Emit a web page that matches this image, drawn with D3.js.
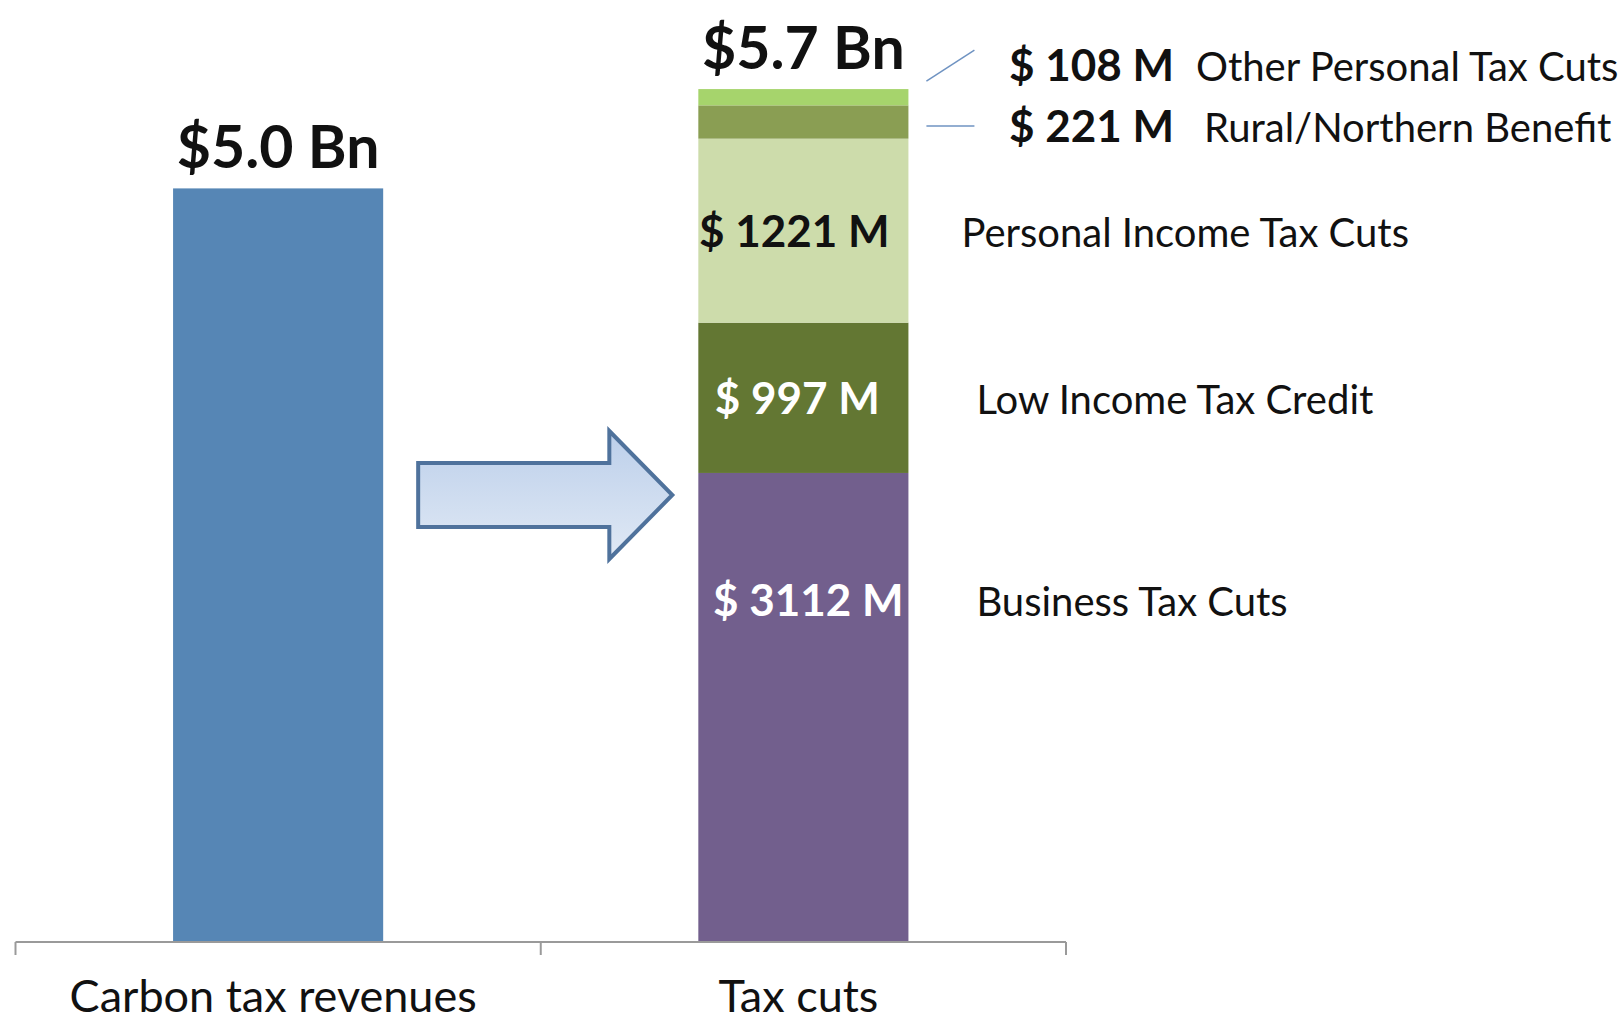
<!DOCTYPE html>
<html>
<head>
<meta charset="utf-8">
<script src="https://cdn.jsdelivr.net/npm/d3@7"></script>
<style>
  html, body { margin: 0; padding: 0; background: #fff; }
  text { font-family: Lato, "Open Sans", sans-serif; }
</style>
</head>
<body>
<div id="chart"></div>
<script>
// Data
const categories = ["Carbon tax revenues", "Tax cuts"];
const totalLabels = ["$5.0 Bn", "$5.7 Bn"];
const revenueValue = 5000; // $ M
const segmentNames = ["Business Tax Cuts", "Low Income Tax Credit", "Personal Income Tax Cuts", "Rural/Northern Benefit", "Other Personal Tax Cuts"];
const segmentValues = [3112, 997, 1221, 221, 108]; // $ M
const segmentLabels = ["$ 3112 M", "$ 997 M", "$ 1221 M", "$ 221 M", "$ 108 M"];

// colours
const revenueColor = "#5686b5";
const segmentColors = ["#725f8d", "#637733", "#cddcab", "#8a9e53", "#a6d46c"];
const segmentTextColors = ["#fff", "#fff", "#111"];

var width = 1623, height = 1025;

var svg = d3.select("#chart")
  .append("svg")
  .attr("width", width)
  .attr("height", height);

// scales
var x = d3.scaleBand()
  .domain(categories)
  .range([15.5, 1066])
  .paddingInner(0.6)
  .paddingOuter(0.3);

var y = d3.scaleLinear()
  .domain([0, 6250])
  .range([942, 0]);

// stack the tax cut segments
var stacked = [];
var acc = 0;
segmentValues.forEach(function(v, i) {
  stacked.push({ name: segmentNames[i], label: segmentLabels[i], value: v, y0: acc, y1: acc + v, i: i });
  acc += v;
});
var totals = [revenueValue, acc];

// revenue bar
svg.append("rect")
  .attr("x", x(categories[0]))
  .attr("y", y(revenueValue))
  .attr("width", x.bandwidth())
  .attr("height", y(0) - y(revenueValue))
  .attr("fill", revenueColor);

// stacked bar
svg.append("g")
  .selectAll("rect")
  .data(stacked)
  .enter()
  .append("rect")
    .attr("x", x(categories[1]))
    .attr("y", function(d) { return y(d.y1); })
    .attr("width", x.bandwidth())
    .attr("height", function(d) { return y(d.y0) - y(d.y1); })
    .attr("fill", function(d) { return segmentColors[d.i]; });

// total labels above bars
svg.selectAll(".total")
  .data(categories)
  .enter()
  .append("text")
    .attr("class", "total")
    .attr("x", function(d) { return x(d) + x.bandwidth() / 2; })
    .attr("y", function(d, i) { return y(totals[i]) - 20; })
    .attr("text-anchor", "middle")
    .style("font-size", "59px")
    .style("font-weight", "bold")
    .style("fill", "#111")
    .text(function(d, i) { return totalLabels[i]; });

// axis line with ticks at band boundaries
var axisY = y(0);
var r = x.range();
var mid = x(categories[0]) + x.bandwidth() + x.step() * x.paddingInner() / 2;
var axis = svg.append("g").attr("stroke", "#9a9a9a").attr("stroke-width", 2);
axis.append("line").attr("x1", r[0]).attr("x2", r[1]).attr("y1", axisY).attr("y2", axisY);
[r[0], mid, r[1]].forEach(function(tx) {
  axis.append("line").attr("x1", tx).attr("x2", tx).attr("y1", axisY).attr("y2", axisY + 13);
});

svg.selectAll(".cat")
  .data(categories)
  .enter()
  .append("text")
    .attr("class", "cat")
    .attr("x", function(d) { return x(d) + x.bandwidth() / 2 - 5; })
    .attr("y", 1012)
    .attr("text-anchor", "middle")
    .style("font-size", "45px")
    .style("fill", "#111")
    .text(function(d) { return d; });

// labels for the three large segments
var barX = x(categories[1]);
var barRight = barX + x.bandwidth();
var labelAt = [0.73, 0.5, 0.5]; // where in the segment the label sits
var labelDx = [5, -6, -9];
var nameX = [barRight + 68, barRight + 68, barRight + 53];

stacked.slice(0, 3).forEach(function(d) {
  var ly = y(d.y0 + d.value * labelAt[d.i]) + 16;
  svg.append("text")
    .attr("x", barX + x.bandwidth() / 2 + labelDx[d.i])
    .attr("y", ly)
    .attr("text-anchor", "middle")
    .style("font-size", "44px")
    .style("font-weight", "bold")
    .style("fill", segmentTextColors[d.i])
    .text(d.label);
  svg.append("text")
    .attr("x", nameX[d.i])
    .attr("y", ly)
    .style("font-size", "40px")
    .style("fill", "#111")
    .text(d.name);
});

// callouts for the two thin segments
var lineX0 = barRight + 18, lineX1 = barRight + 66;
var rural = stacked[3], other = stacked[4];
var ruralY = y(rural.y0 + rural.value / 2) + 4;
var otherY = y(other.y0 + other.value / 2) - 16;

svg.append("line")
  .attr("x1", lineX0).attr("x2", lineX1)
  .attr("y1", ruralY).attr("y2", ruralY)
  .attr("stroke", "#6f93c2").attr("stroke-width", 1.5);
svg.append("line")
  .attr("x1", lineX0).attr("x2", lineX1)
  .attr("y1", otherY).attr("y2", otherY - 31)
  .attr("stroke", "#6f93c2").attr("stroke-width", 1.5);

[[rural, ruralY + 16, 1204], [other, otherY, 1196]].forEach(function(c) {
  svg.append("text")
    .attr("x", 1009)
    .attr("y", c[1])
    .style("font-size", "44px")
    .style("font-weight", "bold")
    .style("fill", "#111")
    .text(c[0].label);
  svg.append("text")
    .attr("x", c[2])
    .attr("y", c[1])
    .style("font-size", "40px")
    .style("fill", "#111")
    .text(c[0].name);
});

// arrow between the bars
var defs = svg.append("defs");
var grad = defs.append("linearGradient")
  .attr("id", "arrowFill")
  .attr("x1", 0).attr("y1", 0).attr("x2", 0).attr("y2", 1);
grad.append("stop").attr("offset", "0%").attr("stop-color", "#bccfea");
grad.append("stop").attr("offset", "100%").attr("stop-color", "#e0e9f5");

var ax0 = x(categories[0]) + x.bandwidth() + 35;
var ax1 = x(categories[1]) - 26;
var acy = 495;
var headW = 63, bodyH = 32, headH = 64;
var arrowPath = d3.path();
arrowPath.moveTo(ax0, acy - bodyH);
arrowPath.lineTo(ax1 - headW, acy - bodyH);
arrowPath.lineTo(ax1 - headW, acy - headH);
arrowPath.lineTo(ax1, acy);
arrowPath.lineTo(ax1 - headW, acy + headH);
arrowPath.lineTo(ax1 - headW, acy + bodyH);
arrowPath.lineTo(ax0, acy + bodyH);
arrowPath.closePath();

svg.append("path")
  .attr("d", arrowPath.toString())
  .attr("fill", "url(#arrowFill)")
  .attr("stroke", "#4f729c")
  .attr("stroke-width", 4)
  .attr("stroke-linejoin", "miter");
</script>
</body>
</html>
